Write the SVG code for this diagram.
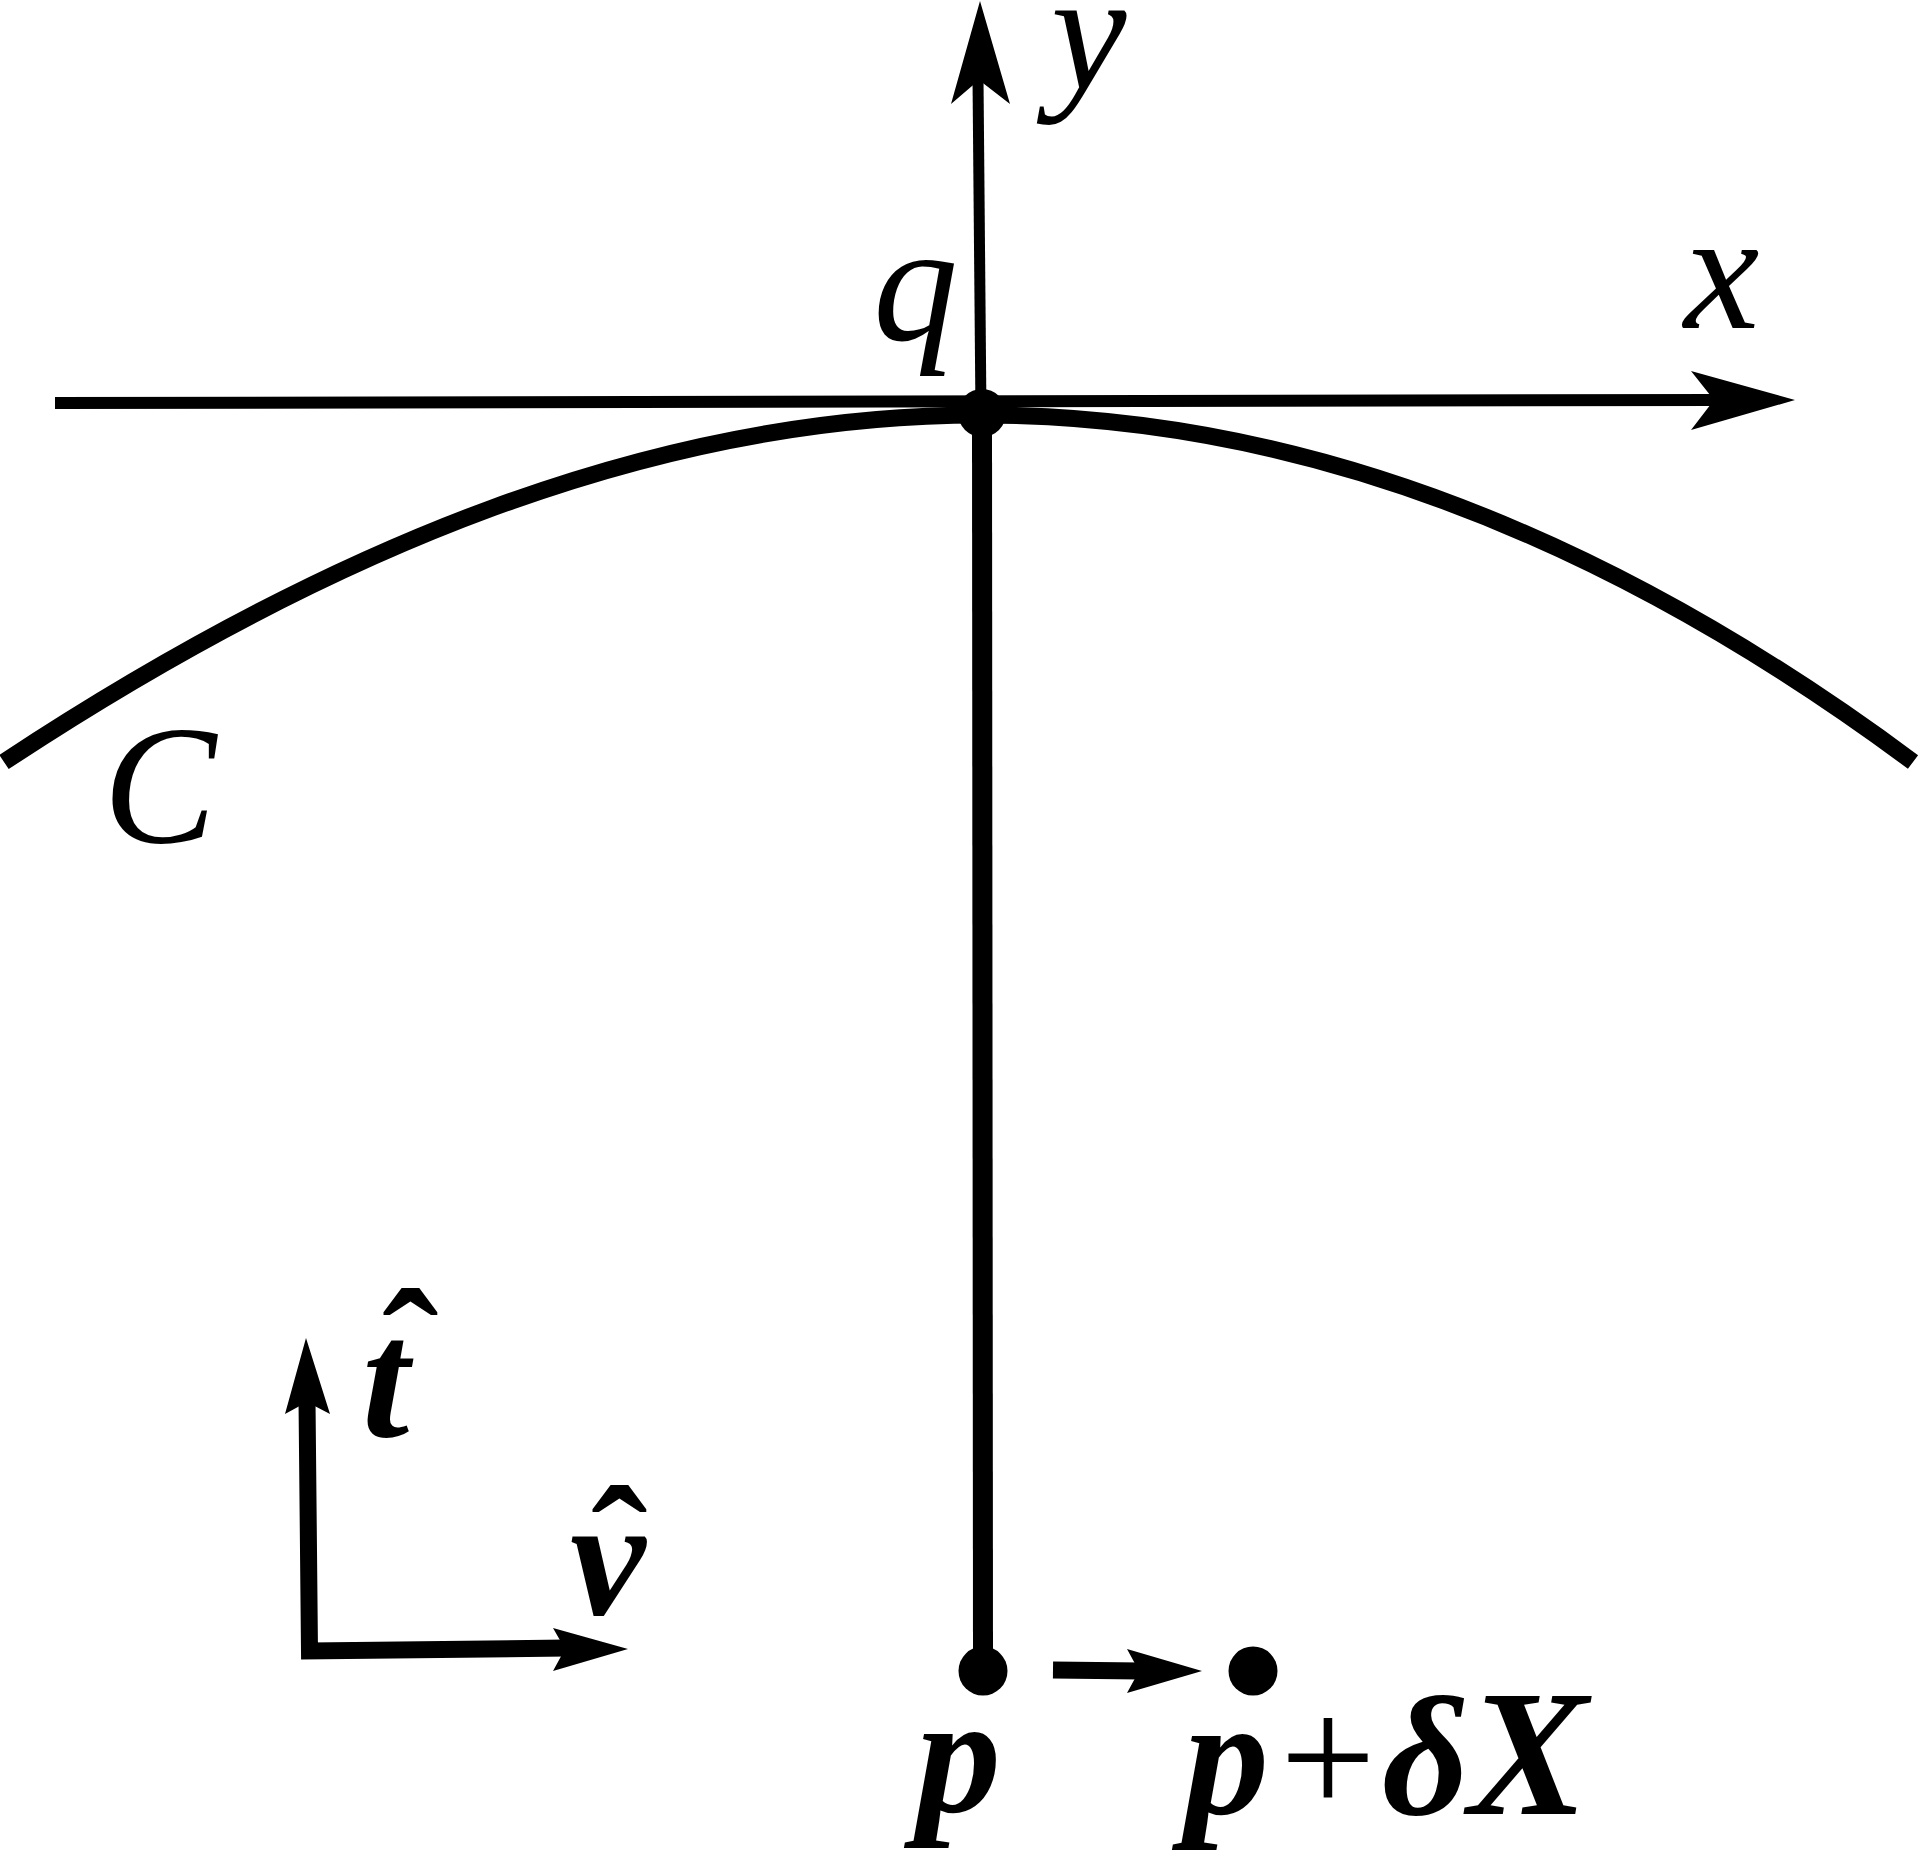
<svg xmlns="http://www.w3.org/2000/svg" width="1920" height="1851" viewBox="0 0 1920 1851">
<style>
.ln{fill:none;stroke:#000;stroke-linejoin:miter;stroke-linecap:butt}
.hd{fill:#000;stroke:none}
.lbl{font-family:"Liberation Serif","Times New Roman",serif;font-size:170px;fill:#000}
.it{font-style:italic}
.bi{font-style:italic;font-weight:bold}
.b{font-weight:bold;font-style:normal}
.up{font-style:normal;font-weight:normal}
</style>
<rect width="1920" height="1851" fill="#fff"/>
<g id="connectors">
<path class="ln" d="M4,762 C330,547 655,415 981,415 C1292,415 1602,531 1913,762" stroke-width="17"/>
<line class="ln" x1="55" y1="403" x2="1716" y2="400" stroke-width="12"/>
<polygon class="hd" points="1795,400 1691,371 1714,400 1691,430"/>
<line class="ln" x1="978" y1="78" x2="981" y2="415" stroke-width="11"/>
<polygon class="hd" points="980,1 1010,104 979,80 951,104"/>
<line class="ln" x1="982" y1="415" x2="983" y2="1665" stroke-width="20"/>
<line class="ln" x1="1053" y1="1670" x2="1141" y2="1671" stroke-width="17"/>
<polygon class="hd" points="1202,1671 1127,1693 1139,1671 1127,1649"/>
<polyline class="ln" points="307,1400 309.5,1651 567,1648" stroke-width="17"/>
<polygon class="hd" points="306,1338 330,1414 307,1402 285,1414"/>
<polygon class="hd" points="628,1649 553,1671 565,1649 553,1628"/>
</g>
<g id="node-q">
<circle cx="982" cy="413" r="24"/>
<text class="lbl it" x="873" y="340">q</text>
</g>
<g id="axis-x-label"><text class="lbl it" x="1684" y="328">x</text></g>
<g id="axis-y-label"><text class="lbl it" x="1051" y="88">y</text></g>
<g id="curve-label"><text class="lbl it" x="103" y="842">C</text></g>
<g id="node-p">
<circle cx="983" cy="1671" r="24.5"/>
<text class="lbl bi" x="916" y="1812">p</text>
</g>
<g id="node-p-dx">
<circle cx="1253" cy="1671" r="24.5"/>
<text class="lbl" y="1814"><tspan class="bi" x="1184">p</tspan><tspan class="up" x="1280">+</tspan><tspan class="bi" x="1382">δ</tspan><tspan class="bi" x="1468" font-size="180">X</tspan></text>
</g>
<g id="label-t">
<text class="lbl"><tspan class="bi" x="362" y="1436">t</tspan><tspan class="b" x="382" y="1408">ˆ</tspan></text>
</g>
<g id="label-v">
<text class="lbl"><tspan class="bi" x="570" y="1614">v</tspan><tspan class="b" x="591" y="1605">ˆ</tspan></text>
</g>
</svg>
